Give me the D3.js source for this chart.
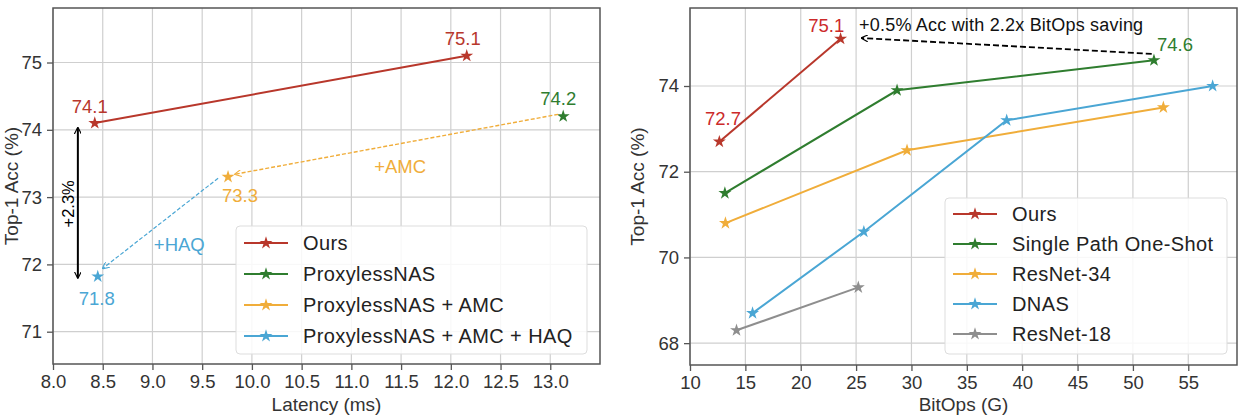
<!DOCTYPE html>
<html>
<head>
<meta charset="utf-8">
<script src="https://cdn.jsdelivr.net/npm/d3@7"></script>
<style>
  body { margin: 0; background: #fff; }
  svg text { font-family: "Liberation Sans", Arial, sans-serif; }
</style>
</head>
<body>
<svg id="chart" width="1252" height="416"></svg>
<script>
// ---- left panel data: latency vs top-1 ----
const latSeries = ["Ours", "ProxylessNAS", "ProxylessNAS + AMC", "ProxylessNAS + AMC + HAQ"];
const latColors = ["#b8372b", "#2f7d2f", "#f0ad3a", "#4aa6d4"];
const latOurs = [[8.42, 74.1], [12.16, 75.1]];
const latProxyless = [[13.13, 74.2]];
const latAmc = [[9.76, 73.3]];
const latHaq = [[8.45, 71.82]];
const latXTicks = [8.0, 8.5, 9.0, 9.5, 10.0, 10.5, 11.0, 11.5, 12.0, 12.5, 13.0];
const latYTicks = [71, 72, 73, 74, 75];

// ---- right panel data: bitops vs top-1 ----
const bitSeries = ["Ours", "Single Path One-Shot", "ResNet-34", "DNAS", "ResNet-18"];
const bitColors = ["#b8372b", "#2f7d2f", "#f0ad3a", "#4aa6d4", "#8e8e8e"];
const bitOurs = [[12.65, 72.7], [23.6, 75.1]];
const bitSpos = [[13.15, 71.5], [28.7, 73.9], [51.9, 74.6]];
const bitRes34 = [[13.2, 70.8], [29.6, 72.5], [52.75, 73.5]];
const bitDnas = [[15.65, 68.7], [25.7, 70.6], [38.6, 73.2], [57.2, 74.0]];
const bitRes18 = [[14.2, 68.3], [25.2, 69.3]];
const bitXTicks = [10, 15, 20, 25, 30, 35, 40, 45, 50, 55];
const bitYTicks = [68, 70, 72, 74];

const svg = d3.select("#chart");
const textColor = "#333";
const star = d3.symbol().type(d3.symbolStar).size(52);

svg.append("defs").selectAll("marker")
    .data([["arrBlack", "#000"], ["arrOrange", "#f0ad3a"], ["arrBlue", "#4aa6d4"]])
    .enter().append("marker")
    .attr("id", d => d[0])
    .attr("viewBox", "0 -5 10 10")
    .attr("refX", 9)
    .attr("refY", 0)
    .attr("markerWidth", 7)
    .attr("markerHeight", 7)
    .attr("markerUnits", "userSpaceOnUse")
    .attr("orient", "auto-start-reverse")
    .append("path")
    .attr("d", "M0,-5L10,0L0,5")
    .style("fill", "none")
    .style("stroke", d => d[1])
    .style("stroke-width", 1.6);

function panel(opts) {
    const g = svg.append("g");
    const x = d3.scaleLinear().domain(opts.xDomain).range([opts.left, opts.right]);
    const y = d3.scaleLinear().domain(opts.yDomain).range([opts.bottom, opts.top]);

    // grid
    g.append("g").selectAll("line").data(opts.xTicks).enter().append("line")
        .attr("x1", d => x(d)).attr("x2", d => x(d))
        .attr("y1", opts.top).attr("y2", opts.bottom)
        .style("stroke", "#cfcfcf").style("stroke-width", 1.2);
    g.append("g").selectAll("line").data(opts.yTicks).enter().append("line")
        .attr("x1", opts.left).attr("x2", opts.right)
        .attr("y1", d => y(d)).attr("y2", d => y(d))
        .style("stroke", "#cfcfcf").style("stroke-width", 1.2);

    // frame
    g.append("rect")
        .attr("x", opts.left).attr("y", opts.top)
        .attr("width", opts.right - opts.left).attr("height", opts.bottom - opts.top)
        .style("fill", "none").style("stroke", "#555").style("stroke-width", 1.5);

    const xAxis = g.append("g").attr("transform", `translate(0,${opts.bottom})`)
        .call(d3.axisBottom(x).tickValues(opts.xTicks).tickFormat(opts.xFormat).tickSize(6).tickPadding(5));
    const yAxis = g.append("g").attr("transform", `translate(${opts.left},0)`)
        .call(d3.axisLeft(y).tickValues(opts.yTicks).tickFormat(d3.format("d")).tickSize(6).tickPadding(5));
    [xAxis, yAxis].forEach(a => {
        a.select(".domain").remove();
        a.selectAll(".tick line").style("stroke", "#555").style("stroke-width", 1.3);
        a.selectAll("text").style("font-size", "18.5px").style("fill", textColor);
    });

    g.append("text")
        .attr("x", (opts.left + opts.right) / 2).attr("y", 411)
        .attr("text-anchor", "middle")
        .style("font-size", "19px").style("fill", textColor)
        .text(opts.xLabel);
    g.append("text")
        .attr("transform", `translate(${opts.yLabelX},${(opts.top + opts.bottom) / 2}) rotate(-90)`)
        .attr("text-anchor", "middle").attr("dy", "0.35em")
        .style("font-size", "19px").style("fill", textColor)
        .text("Top-1 Acc (%)");

    const line = d3.line().x(d => x(d[0])).y(d => y(d[1]));
    opts.data.forEach((pts, i) => {
        g.append("path").datum(pts).attr("d", line)
            .style("fill", "none").style("stroke", opts.colors[i]).style("stroke-width", 2);
        g.append("g").selectAll("path").data(pts).enter().append("path")
            .attr("d", star)
            .attr("transform", d => `translate(${x(d[0])},${y(d[1])})`)
            .style("fill", opts.colors[i]);
    });

    // legend
    const lg = g.append("g");
    lg.append("rect")
        .attr("x", opts.legend.x).attr("y", opts.legend.y)
        .attr("width", opts.legend.w).attr("height", opts.legend.h)
        .attr("rx", 4)
        .style("fill", "#fff").style("fill-opacity", 0.85)
        .style("stroke", "#ddd").style("stroke-width", 1);
    opts.series.forEach((name, i) => {
        const ly = opts.legend.y + opts.legend.first + i * opts.legend.step;
        const lx = opts.legend.x + 8;
        lg.append("line")
            .attr("x1", lx).attr("x2", lx + 44).attr("y1", ly).attr("y2", ly)
            .style("stroke", opts.colors[i]).style("stroke-width", 2);
        lg.append("path").attr("d", star)
            .attr("transform", `translate(${lx + 22},${ly})`)
            .style("fill", opts.colors[i]);
        lg.append("text")
            .attr("x", lx + 59).attr("y", ly).attr("dy", "0.35em")
            .style("font-size", "20px").style("letter-spacing", "0.4px").style("fill", "#222")
            .text(name);
    });

    return { g, x, y };
}

// ---- left panel ----
const L = panel({
    left: 53, right: 600, top: 8, bottom: 364,
    xDomain: [8.0, 13.5], yDomain: [70.52, 75.81],
    xTicks: latXTicks, yTicks: latYTicks, xFormat: d3.format(".1f"),
    xLabel: "Latency (ms)", yLabelX: 11,
    data: [latOurs, latProxyless, latAmc, latHaq],
    series: latSeries, colors: latColors,
    legend: { x: 236, y: 226, w: 351, h: 128, first: 17, step: 31 }
});

// dashed arrows: ProxylessNAS -> +AMC, +AMC -> +HAQ
L.g.append("line")
    .attr("x1", L.x(latProxyless[0][0] - 0.05)).attr("y1", L.y(latProxyless[0][1] + 0.03))
    .attr("x2", L.x(latAmc[0][0] + 0.07)).attr("y2", L.y(latAmc[0][1] + 0.04))
    .attr("marker-end", "url(#arrOrange)")
    .style("stroke", "#f0ad3a").style("stroke-width", 1.4).style("stroke-dasharray", "4,2");
L.g.append("line")
    .attr("x1", L.x(9.66)).attr("y1", L.y(73.28))
    .attr("x2", L.x(latHaq[0][0] + 0.05)).attr("y2", L.y(latHaq[0][1] + 0.12))
    .attr("marker-end", "url(#arrBlue)")
    .style("stroke", "#4aa6d4").style("stroke-width", 1.2).style("stroke-dasharray", "4,2");

// vertical +2.3% arrow
L.g.append("line")
    .attr("x1", L.x(8.25)).attr("x2", L.x(8.25))
    .attr("y1", L.y(71.8)).attr("y2", L.y(74.03))
    .attr("marker-start", "url(#arrBlack)").attr("marker-end", "url(#arrBlack)")
    .style("stroke", "#000").style("stroke-width", 2);
L.g.append("text")
    .attr("transform", `translate(${L.x(8.15)},${L.y(72.9)}) rotate(-90)`)
    .attr("text-anchor", "middle").attr("dy", "0.35em")
    .style("font-size", "16.5px").style("fill", "#000")
    .text("+2.3%");

const latLabels = [
    { t: "74.1", x: 8.37, y: 74.35, c: latColors[0] },
    { t: "75.1", x: 12.12, y: 75.36, c: latColors[0] },
    { t: "74.2", x: 13.08, y: 74.46, c: latColors[1] },
    { t: "73.3", x: 9.88, y: 73.03, c: latColors[2] },
    { t: "71.8", x: 8.44, y: 71.5, c: latColors[3] },
    { t: "+AMC", x: 11.49, y: 73.45, c: latColors[2] },
    { t: "+HAQ", x: 9.27, y: 72.3, c: latColors[3] }
];
L.g.append("g").selectAll("text").data(latLabels).enter().append("text")
    .attr("x", d => L.x(d.x)).attr("y", d => L.y(d.y))
    .attr("text-anchor", "middle").attr("dy", "0.35em")
    .style("font-size", "18.5px").style("fill", d => d.c)
    .text(d => d.t);

// ---- right panel ----
const R = panel({
    left: 690, right: 1237, top: 8, bottom: 365,
    xDomain: [10, 59.4], yDomain: [67.49, 75.82],
    xTicks: bitXTicks, yTicks: bitYTicks, xFormat: d3.format("d"),
    xLabel: "BitOps (G)", yLabelX: 637,
    data: [bitOurs, bitSpos, bitRes34, bitDnas, bitRes18],
    series: bitSeries, colors: bitColors,
    legend: { x: 945, y: 198, w: 282, h: 156, first: 16, step: 30 }
});

R.g.append("line")
    .attr("x1", R.x(51.7)).attr("y1", R.y(74.75))
    .attr("x2", R.x(25.5)).attr("y2", R.y(75.12))
    .attr("marker-end", "url(#arrBlack)")
    .style("stroke", "#000").style("stroke-width", 1.8).style("stroke-dasharray", "6,3");
R.g.append("text")
    .attr("x", R.x(25.27)).attr("y", R.y(75.42))
    .attr("dy", "0.35em")
    .style("font-size", "18px").style("letter-spacing", "0.2px").style("fill", "#111")
    .text("+0.5% Acc with 2.2x BitOps saving");

const bitLabels = [
    { t: "72.7", x: 12.98, y: 73.23, c: "#cc2a2a" },
    { t: "75.1", x: 22.3, y: 75.4, c: "#cc2a2a" },
    { t: "74.6", x: 53.8, y: 74.96, c: bitColors[1] }
];
R.g.append("g").selectAll("text").data(bitLabels).enter().append("text")
    .attr("x", d => R.x(d.x)).attr("y", d => R.y(d.y))
    .attr("text-anchor", "middle").attr("dy", "0.35em")
    .style("font-size", "18.5px").style("fill", d => d.c)
    .text(d => d.t);
</script>
</body>
</html>
